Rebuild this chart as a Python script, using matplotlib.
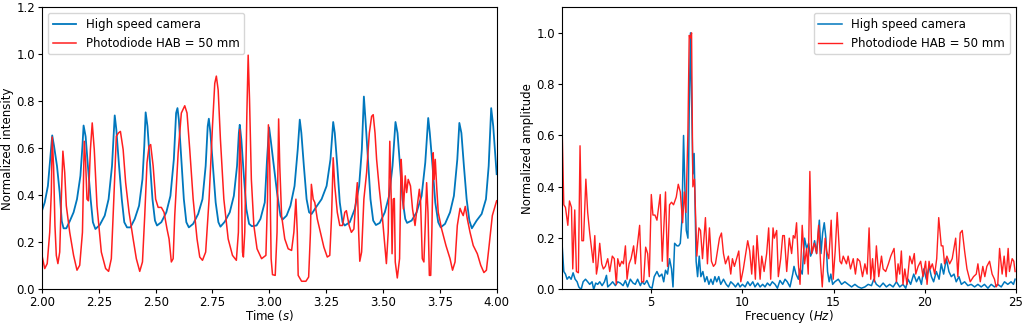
import numpy as np
import matplotlib
matplotlib.use('Agg')
import matplotlib.pyplot as plt

# --- time signal (left panel) ---
cam_t = [2.000, 2.012, 2.026, 2.037, 2.045, 2.053, 2.066, 2.078, 2.087, 2.095,
         2.107, 2.122, 2.139, 2.154, 2.169, 2.178, 2.183, 2.192, 2.202, 2.214,
         2.224, 2.235, 2.254, 2.276, 2.293, 2.308, 2.320, 2.327, 2.339, 2.351,
         2.362, 2.374, 2.389, 2.408, 2.427, 2.442, 2.450, 2.456, 2.464, 2.474,
         2.486, 2.497, 2.506, 2.525, 2.547, 2.565, 2.580, 2.590, 2.596, 2.602,
         2.613, 2.624, 2.635, 2.646, 2.665, 2.687, 2.706, 2.720, 2.729, 2.734,
         2.741, 2.753, 2.764, 2.776, 2.785, 2.804, 2.826, 2.844, 2.858, 2.866,
         2.870, 2.877, 2.888, 2.899, 2.911, 2.923, 2.944, 2.961, 2.980, 2.990,
         2.999, 3.006, 3.020, 3.034, 3.049, 3.058, 3.076, 3.093, 3.111, 3.125,
         3.134, 3.141, 3.152, 3.164, 3.175, 3.186, 3.205, 3.230, 3.252, 3.269,
         3.281, 3.288, 3.299, 3.310, 3.322, 3.332, 3.354, 3.376, 3.395, 3.407,
         3.416, 3.423, 3.434, 3.445, 3.457, 3.469, 3.486, 3.508, 3.527, 3.542,
         3.555, 3.564, 3.574, 3.586, 3.598, 3.606, 3.626, 3.648, 3.670, 3.686,
         3.699, 3.706, 3.718, 3.730, 3.743, 3.754, 3.773, 3.795, 3.812, 3.827,
         3.836, 3.845, 3.856, 3.868, 3.880, 3.891, 3.912, 3.934, 3.953, 3.965,
         3.976, 3.985, 4.000]
cam_i = [0.335, 0.37, 0.44, 0.567, 0.655, 0.61, 0.525, 0.41, 0.29, 0.26,
         0.26, 0.29, 0.328, 0.384, 0.483, 0.61, 0.697, 0.65, 0.525, 0.384,
         0.286, 0.257, 0.274, 0.314, 0.384, 0.525, 0.74, 0.68, 0.525, 0.384,
         0.286, 0.264, 0.264, 0.30, 0.356, 0.469, 0.61, 0.753, 0.694, 0.553,
         0.384, 0.293, 0.272, 0.286, 0.328, 0.398, 0.553, 0.75, 0.771, 0.722,
         0.553, 0.384, 0.286, 0.264, 0.279, 0.321, 0.384, 0.525, 0.694, 0.726,
         0.665, 0.51, 0.37, 0.286, 0.267, 0.288, 0.328, 0.398, 0.525, 0.665,
         0.70, 0.637, 0.483, 0.342, 0.279, 0.269, 0.272, 0.30, 0.37, 0.553,
         0.689, 0.637, 0.525, 0.412, 0.314, 0.297, 0.314, 0.356, 0.44, 0.595,
         0.722, 0.665, 0.525, 0.384, 0.328, 0.321, 0.349, 0.384, 0.44, 0.553,
         0.712, 0.665, 0.525, 0.37, 0.286, 0.272, 0.286, 0.342, 0.44, 0.595,
         0.82, 0.722, 0.553, 0.384, 0.293, 0.274, 0.283, 0.328, 0.398, 0.525,
         0.712, 0.665, 0.539, 0.384, 0.30, 0.283, 0.293, 0.328, 0.398, 0.539,
         0.729, 0.665, 0.525, 0.37, 0.286, 0.264, 0.279, 0.328, 0.398, 0.553,
         0.708, 0.665, 0.525, 0.384, 0.293, 0.26, 0.293, 0.321, 0.384, 0.525,
         0.771, 0.694, 0.49]

pd_t = [2.000, 2.012, 2.023, 2.034, 2.041, 2.045, 2.051, 2.057, 2.063, 2.070,
        2.078, 2.085, 2.092, 2.100, 2.107, 2.122, 2.139, 2.154, 2.166, 2.178,
        2.186, 2.192, 2.198, 2.204, 2.213, 2.221, 2.230, 2.242, 2.261, 2.280,
        2.293, 2.305, 2.316, 2.327, 2.336, 2.345, 2.357, 2.368, 2.383, 2.401,
        2.415, 2.430, 2.442, 2.452, 2.462, 2.471, 2.478, 2.489, 2.500, 2.511,
        2.525, 2.537, 2.550, 2.559, 2.569, 2.577, 2.584, 2.599, 2.613, 2.628,
        2.638, 2.650, 2.665, 2.682, 2.694, 2.706, 2.720, 2.735, 2.750, 2.760,
        2.767, 2.775, 2.785, 2.800, 2.819, 2.838, 2.855, 2.864, 2.870, 2.876,
        2.882, 2.886, 2.892, 2.901, 2.907, 2.913, 2.921, 2.932, 2.946, 2.966,
        2.985, 2.992, 2.996, 3.002, 3.008, 3.014, 3.026, 3.034, 3.041, 3.046,
        3.054, 3.068, 3.083, 3.098, 3.108, 3.117, 3.123, 3.127, 3.142, 3.161,
        3.173, 3.181, 3.185, 3.193, 3.200, 3.211, 3.225, 3.240, 3.255, 3.266,
        3.274, 3.281, 3.288, 3.299, 3.310, 3.322, 3.332, 3.339, 3.351, 3.361,
        3.372, 3.381, 3.387, 3.393, 3.398, 3.406, 3.416, 3.428, 3.440, 3.450,
        3.457, 3.465, 3.472, 3.484, 3.498, 3.508, 3.515, 3.523, 3.530, 3.537,
        3.540, 3.545, 3.550, 3.554, 3.563, 3.573, 3.580, 3.584, 3.590, 3.598,
        3.604, 3.611, 3.621, 3.630, 3.641, 3.651, 3.660, 3.665, 3.673, 3.680,
        3.686, 3.692, 3.698, 3.704, 3.710, 3.715, 3.721, 3.725, 3.730, 3.736,
        3.743, 3.758, 3.777, 3.795, 3.806, 3.817, 3.827, 3.839, 3.846, 3.853,
        3.862, 3.871, 3.883, 3.897, 3.915, 3.930, 3.944, 3.955, 3.967, 3.981,
        4.000]
pd_i = [0.145, 0.089, 0.11, 0.243, 0.412, 0.648, 0.525, 0.272, 0.145, 0.11,
        0.159, 0.384, 0.588, 0.497, 0.356, 0.243, 0.145, 0.082, 0.103, 0.243,
        0.63, 0.54, 0.384, 0.377, 0.595, 0.708, 0.595, 0.356, 0.159, 0.089,
        0.077, 0.131, 0.384, 0.651, 0.665, 0.672, 0.595, 0.454, 0.328, 0.215,
        0.131, 0.077, 0.117, 0.314, 0.539, 0.609, 0.616, 0.525, 0.384, 0.349,
        0.349, 0.328, 0.257, 0.215, 0.117, 0.131, 0.314, 0.581, 0.75, 0.781,
        0.75, 0.595, 0.384, 0.215, 0.138, 0.124, 0.159, 0.384, 0.694, 0.876,
        0.907, 0.848, 0.637, 0.384, 0.215, 0.145, 0.124, 0.243, 0.68, 0.525,
        0.159, 0.138, 0.243, 0.736, 0.996, 0.806, 0.468, 0.272, 0.173, 0.131,
        0.145, 0.384, 0.70, 0.525, 0.131, 0.063, 0.06, 0.243, 0.725, 0.525,
        0.314, 0.215, 0.173, 0.166, 0.243, 0.384, 0.243, 0.06, 0.035, 0.035,
        0.053, 0.243, 0.447, 0.384, 0.37, 0.30, 0.243, 0.18, 0.138, 0.145,
        0.314, 0.56, 0.44, 0.328, 0.272, 0.272, 0.328, 0.335, 0.272, 0.243,
        0.257, 0.384, 0.454, 0.243, 0.12, 0.159, 0.384, 0.497, 0.665, 0.736,
        0.743, 0.665, 0.553, 0.426, 0.30, 0.187, 0.11, 0.243, 0.63, 0.356,
        0.152, 0.384, 0.387, 0.117, 0.049, 0.131, 0.553, 0.483, 0.342, 0.483,
        0.412, 0.468, 0.44, 0.342, 0.272, 0.356, 0.426, 0.384, 0.131, 0.117,
        0.272, 0.454, 0.328, 0.06, 0.06, 0.243, 0.581, 0.468, 0.553, 0.44,
        0.328, 0.257, 0.187, 0.131, 0.082, 0.117, 0.272, 0.345, 0.328, 0.314,
        0.353, 0.30, 0.243, 0.187, 0.152, 0.103, 0.072, 0.082, 0.187, 0.314,
        0.377]

# --- spectrum (right panel) ---
cam_f = [0.11, 0.20, 0.29, 0.38, 0.49, 0.60, 0.71, 0.82, 0.93, 1.02,
         1.15, 1.26, 1.39, 1.51, 1.62, 1.75, 1.84, 1.95, 2.06, 2.17,
         2.30, 2.43, 2.54, 2.61, 2.76, 2.88, 3.03, 3.16, 3.30, 3.45,
         3.58, 3.70, 3.85, 4.00, 4.12, 4.25, 4.40, 4.49, 4.62, 4.76,
         4.91, 5.04, 5.16, 5.31, 5.44, 5.58, 5.68, 5.78, 5.89, 6.00,
         6.11, 6.19, 6.28, 6.41, 6.50, 6.59, 6.68, 6.77, 6.84, 6.92,
         7.01, 7.08, 7.15, 7.21, 7.28, 7.35, 7.41, 7.46, 7.54, 7.63,
         7.72, 7.83, 7.94, 8.05, 8.16, 8.27, 8.38, 8.49, 8.59, 8.70,
         8.81, 8.96, 9.11, 9.23, 9.36, 9.51, 9.62, 9.76, 9.87, 10.00,
         10.15, 10.29, 10.42, 10.57, 10.69, 10.84, 10.97, 11.11, 11.24, 11.37,
         11.51, 11.64, 11.79, 11.92, 12.06, 12.21, 12.34, 12.46, 12.61, 12.76,
         12.83, 12.94, 13.07, 13.16, 13.28, 13.41, 13.52, 13.63, 13.74, 13.85,
         13.96, 14.07, 14.22, 14.31, 14.40, 14.49, 14.58, 14.67, 14.76, 14.85,
         14.95, 15.07, 15.26, 15.44, 15.62, 15.80, 15.99, 16.17, 16.35, 16.53,
         16.72, 16.90, 17.08, 17.21, 17.35, 17.54, 17.72, 17.90, 18.08, 18.27,
         18.45, 18.63, 18.81, 18.96, 19.09, 19.23, 19.40, 19.55, 19.69, 19.82,
         19.95, 20.09, 20.24, 20.37, 20.49, 20.64, 20.79, 20.91, 21.04, 21.19,
         21.33, 21.46, 21.61, 21.73, 21.88, 22.01, 22.19, 22.37, 22.55, 22.74,
         22.92, 23.10, 23.28, 23.47, 23.65, 23.83, 24.01, 24.20, 24.38, 24.56,
         24.74, 24.87, 24.96]
cam_a = [0.17, 0.07, 0.06, 0.04, 0.05, 0.04, 0.065, 0.04, 0.03, 0.01,
         0.0, 0.03, 0.04, 0.03, 0.02, 0.03, 0.0, 0.025, 0.02, 0.03,
         0.015, 0.03, 0.055, 0.01, 0.02, 0.03, 0.015, 0.03, 0.025, 0.015,
         0.035, 0.01, 0.04, 0.025, 0.02, 0.04, 0.015, 0.03, 0.02, 0.035,
         0.01, 0.005, 0.05, 0.07, 0.05, 0.06, 0.03, 0.075, 0.06, 0.12,
         0.08, 0.01, 0.18, 0.17, 0.17, 0.18, 0.27, 0.60, 0.40, 0.23,
         0.20, 0.70, 1.0, 0.75, 0.45, 0.53, 0.31, 0.11, 0.05, 0.13,
         0.05, 0.07, 0.03, 0.05, 0.02, 0.04, 0.02, 0.05, 0.03, 0.05,
         0.02, 0.04, 0.02, 0.01, 0.03, 0.02, 0.01, 0.025, 0.01, 0.02,
         0.01, 0.03, 0.015, 0.03, 0.01, 0.025, 0.01, 0.02, 0.01, 0.025,
         0.015, 0.03, 0.02, 0.005, 0.035, 0.02, 0.04, 0.03, 0.01, 0.06,
         0.09, 0.06, 0.04, 0.08, 0.06, 0.20, 0.16, 0.18, 0.13, 0.15,
         0.19, 0.14, 0.27, 0.14, 0.22, 0.26, 0.20, 0.07, 0.03, 0.06,
         0.02, 0.03, 0.04, 0.02, 0.03, 0.02, 0.01, 0.02, 0.01, 0.005,
         0.01, 0.02, 0.015, 0.04, 0.02, 0.01, 0.025, 0.01, 0.02, 0.01,
         0.03, 0.01, 0.02, 0.005, 0.04, 0.02, 0.06, 0.03, 0.05, 0.02,
         0.08, 0.04, 0.09, 0.05, 0.03, 0.07, 0.04, 0.10, 0.06, 0.12,
         0.07, 0.05, 0.06, 0.03, 0.05, 0.02, 0.03, 0.015, 0.02, 0.01,
         0.02, 0.01, 0.02, 0.005, 0.02, 0.01, 0.02, 0.01, 0.03, 0.02,
         0.03, 0.02, 0.04]

pd_f = [0.11, 0.20, 0.29, 0.42, 0.51, 0.62, 0.69, 0.80, 0.89, 1.00,
        1.09, 1.19, 1.28, 1.41, 1.51, 1.62, 1.70, 1.81, 1.90, 1.99,
        2.06, 2.17, 2.28, 2.37, 2.48, 2.61, 2.72, 2.86, 2.97, 3.08,
        3.16, 3.27, 3.38, 3.47, 3.58, 3.67, 3.78, 3.89, 4.03, 4.12,
        4.36, 4.47, 4.58, 4.69, 4.80, 4.89, 5.00, 5.09, 5.20, 5.31,
        5.49, 5.60, 5.78, 5.89, 6.00, 6.11, 6.22, 6.37, 6.48, 6.59,
        6.72, 6.81, 6.90, 7.01, 7.08, 7.15, 7.21, 7.28, 7.37, 7.45,
        7.50, 7.61, 7.70, 7.81, 7.97, 8.08, 8.19, 8.30, 8.41, 8.52,
        8.74, 8.85, 8.96, 9.07, 9.23, 9.36, 9.45, 9.56, 9.80, 9.91,
        10.05, 10.29, 10.40, 10.51, 10.60, 10.71, 10.80, 10.86, 10.97, 11.06,
        11.19, 11.33, 11.44, 11.55, 11.68, 11.75, 11.88, 11.97, 12.10, 12.21,
        12.30, 12.43, 12.57, 12.70, 12.79, 12.88, 12.97, 13.07, 13.16, 13.28,
        13.41, 13.52, 13.61, 13.70, 13.80, 13.94, 14.07, 14.18, 14.29, 14.38,
        14.54, 14.62, 14.74, 14.87, 14.98, 15.09, 15.20, 15.35, 15.44, 15.53,
        15.71, 15.80, 15.93, 16.08, 16.20, 16.31, 16.44, 16.59, 16.72, 16.84,
        16.95, 17.04, 17.14, 17.24, 17.35, 17.48, 17.63, 17.72, 17.86, 18.01,
        18.14, 18.32, 18.45, 18.54, 18.63, 18.72, 18.81, 18.91, 19.03, 19.18,
        19.31, 19.43, 19.51, 19.64, 19.78, 19.91, 20.05, 20.13, 20.24, 20.31,
        20.42, 20.55, 20.66, 20.77, 20.91, 21.00, 21.09, 21.22, 21.37, 21.51,
        21.70, 21.82, 21.95, 22.06, 22.19, 22.32, 22.50, 22.68, 22.83, 22.92,
        23.05, 23.19, 23.30, 23.41, 23.56, 23.70, 23.83, 23.92, 24.01, 24.11,
        24.25, 24.36, 24.47, 24.58, 24.65, 24.80, 24.89, 24.96]
pd_a = [0.62, 0.33, 0.32, 0.25, 0.345, 0.32, 0.08, 0.31, 0.07, 0.065,
        0.56, 0.19, 0.19, 0.43, 0.30, 0.22, 0.17, 0.105, 0.21, 0.06,
        0.09, 0.18, 0.10, 0.08, 0.09, 0.12, 0.07, 0.13, 0.12, 0.02,
        0.12, 0.09, 0.11, 0.10, 0.17, 0.04, 0.10, 0.12, 0.17, 0.10,
        0.25, 0.03, 0.03, 0.165, 0.14, 0.05, 0.37, 0.29, 0.29, 0.27,
        0.37, 0.11, 0.38, 0.09, 0.33, 0.34, 0.33, 0.36, 0.41, 0.38,
        0.26, 0.38, 0.30, 0.62, 0.99, 0.98, 1.0, 0.40, 0.43, 0.25,
        0.13, 0.24, 0.23, 0.12, 0.28, 0.10, 0.24, 0.11, 0.09, 0.10,
        0.20, 0.22, 0.14, 0.10, 0.13, 0.06, 0.12, 0.09, 0.15, 0.03,
        0.08, 0.19, 0.15, 0.06, 0.17, 0.04, 0.21, 0.15, 0.04, 0.13,
        0.07, 0.14, 0.24, 0.04, 0.24, 0.20, 0.23, 0.05, 0.12, 0.21,
        0.21, 0.07, 0.20, 0.14, 0.21, 0.20, 0.26, 0.10, 0.02, 0.25,
        0.10, 0.16, 0.06, 0.46, 0.14, 0.18, 0.14, 0.25, 0.10, 0.01,
        0.20, 0.15, 0.12, 0.27, 0.04, 0.15, 0.30, 0.11, 0.10, 0.13,
        0.10, 0.13, 0.08, 0.12, 0.06, 0.12, 0.11, 0.05, 0.10, 0.06,
        0.24, 0.04, 0.12, 0.03, 0.17, 0.05, 0.13, 0.08, 0.07, 0.10,
        0.13, 0.16, 0.03, 0.10, 0.06, 0.15, 0.02, 0.08, 0.02, 0.13,
        0.10, 0.14, 0.06, 0.09, 0.11, 0.05, 0.11, 0.02, 0.11, 0.08,
        0.10, 0.06, 0.12, 0.28, 0.17, 0.17, 0.10, 0.13, 0.10, 0.12,
        0.20, 0.05, 0.22, 0.23, 0.15, 0.08, 0.03, 0.05, 0.06, 0.10,
        0.03, 0.09, 0.05, 0.09, 0.11, 0.06, 0.04, 0.01, 0.02, 0.16,
        0.06, 0.13, 0.05, 0.16, 0.07, 0.12, 0.11, 0.07]

blue = '#0077bd'
red = '#ff1f1f'

fig = plt.figure(figsize=(10.24, 3.26), dpi=100)
ax1 = fig.add_axes([0.041, 0.112, 0.444, 0.866])
ax2 = fig.add_axes([0.549, 0.112, 0.443, 0.866])

ax1.plot(cam_t, cam_i, color=blue, lw=1.3, label='High speed camera')
ax1.plot(pd_t, pd_i, color=red, lw=1.1, label='Photodiode HAB = 50 mm')
ax1.set_xlim(2.0, 4.0)
ax1.set_ylim(0, 1.2)
ax1.set_xticks([2.0, 2.25, 2.5, 2.75, 3.0, 3.25, 3.5, 3.75, 4.0])
ax1.set_xticklabels(['2.00', '2.25', '2.50', '2.75', '3.00', '3.25', '3.50', '3.75', '4.00'])
ax1.set_xlabel('Time ($s$)', fontsize=8.5, labelpad=-1)
ax1.set_ylabel('Normalized intensity', fontsize=8.5, labelpad=2)
ax1.legend(loc='upper left', fontsize=8.5)

ax2.plot(cam_f, cam_a, color=blue, lw=1.1, label='High speed camera')
ax2.plot(pd_f, pd_a, color=red, lw=1.0, label='Photodiode HAB = 50 mm')
ax2.set_xlim(0.11, 25)
ax2.set_ylim(0, 1.1)
ax2.set_xticks([5, 10, 15, 20, 25])
ax2.set_xlabel('Frecuency ($Hz$)', fontsize=8.5, labelpad=-1)
ax2.set_ylabel('Normalized amplitude', fontsize=8.5, labelpad=2)
ax2.legend(loc='upper right', fontsize=8.5)

for ax in (ax1, ax2):
    ax.tick_params(labelsize=8.5, length=3, pad=2)

fig.savefig('out.png', dpi=100)
